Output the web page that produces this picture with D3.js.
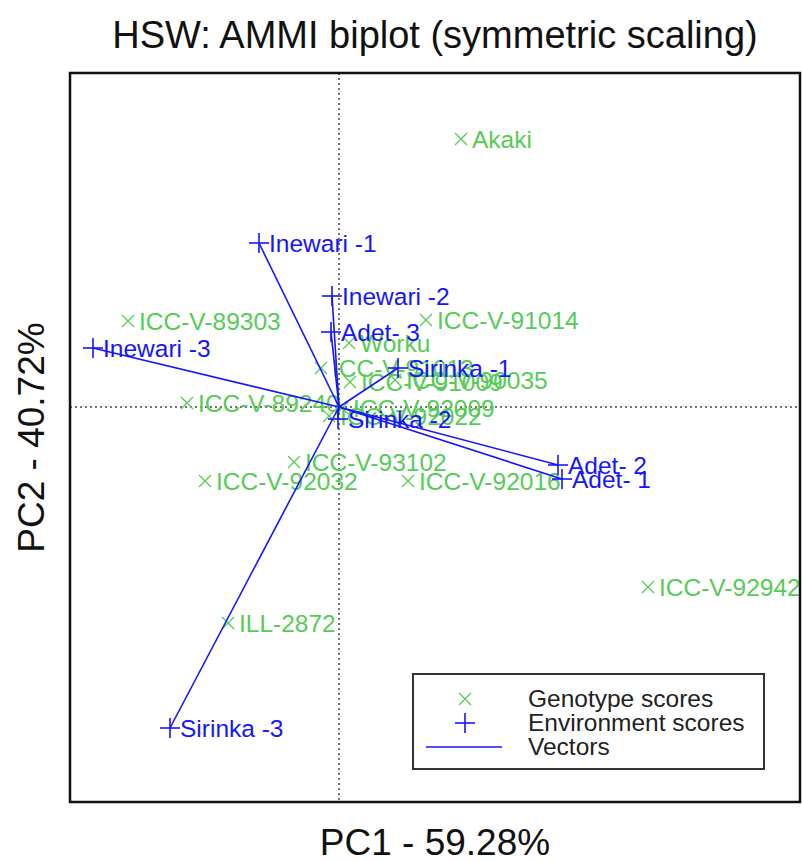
<!DOCTYPE html>
<html>
<head>
<meta charset="utf-8">
<script src="https://cdn.jsdelivr.net/npm/d3@7"></script>
<style>
  body { margin: 0; background: #fff; }
  svg { display: block; font-family: "Liberation Sans", Arial, sans-serif; }
</style>
</head>
<body>
<svg width="802" height="862"></svg>
<script>
// genotype scores (PC1, PC2)
var genoNames = ['Akaki', 'ICC-V-89303', 'ICC-V-91014', 'Worku', 'ICC-V-91013', 'ICC-V-91009',
  'ICC-V-90035', 'ICC-V-89240', 'ICC-V-92009', 'ICC-V-92022', 'ICC-V-93102', 'ICC-V-92032',
  'ICC-V-92016', 'ICC-V-92942', 'ILL-2872'];
var genoPC1 = [1.22, -2.11, 0.87, 0.10, -0.18, 0.11, 0.56, -1.52, 0.03, -0.10, -0.45, -1.34, 0.69, 3.09, -1.11];
var genoPC2 = [2.68, 0.86, 0.87, 0.64, 0.39, 0.25, 0.27, 0.04, -0.01, -0.09, -0.55, -0.74, -0.74, -1.80, -2.16];

// environment scores (PC1, PC2)
var envNames = ['Inewari -1', 'Inewari -2', 'Adet- 3', 'Inewari -3', 'Sirinka -1', 'Sirinka -2',
  'Adet- 2', 'Adet- 1', 'Sirinka -3'];
var envPC1 = [-0.80, -0.07, -0.08, -2.46, 0.59, -0.01, 2.19, 2.23, -1.69];
var envPC2 = [1.64, 1.11, 0.75, 0.59, 0.39, -0.12, -0.58, -0.72, -3.21];

var legendLabels = ['Genotype scores', 'Environment scores', 'Vectors'];

var green = '#55cc55';
var blue = '#1515ff';

var svg = d3.select('svg');
var plotL = 70, plotR = 800, plotT = 73, plotB = 802;

var x = d3.scaleLinear().domain([-2.69, 4.61]).range([plotL, plotR]);
var y = d3.scaleLinear().domain([-3.95, 3.34]).range([plotB, plotT]);

var geno = genoNames.map(function(n, i) { return {name: n, x: genoPC1[i], y: genoPC2[i]}; });
var env = envNames.map(function(n, i) { return {name: n, x: envPC1[i], y: envPC2[i]}; });

// title + axis labels
svg.append('text').attr('x', (plotL + plotR) / 2).attr('y', 48)
  .attr('text-anchor', 'middle').attr('font-size', 38).attr('fill', '#111')
  .text('HSW: AMMI biplot (symmetric scaling)');
svg.append('text').attr('x', (plotL + plotR) / 2).attr('y', 855)
  .attr('text-anchor', 'middle').attr('font-size', 37).attr('fill', '#111')
  .text('PC1 - 59.28%');
svg.append('text')
  .attr('transform', 'translate(44,' + (plotT + plotB) / 2 + ') rotate(-90)')
  .attr('text-anchor', 'middle').attr('font-size', 37).attr('fill', '#111')
  .text('PC2 - 40.72%');

// origin lines
svg.append('line').attr('x1', x(0)).attr('x2', x(0)).attr('y1', plotT).attr('y2', plotB)
  .attr('stroke', '#444').attr('stroke-width', 1.5).attr('stroke-dasharray', '2,3');
svg.append('line').attr('x1', plotL).attr('x2', plotR).attr('y1', y(0)).attr('y2', y(0))
  .attr('stroke', '#444').attr('stroke-width', 1.5).attr('stroke-dasharray', '2,3');

function cross(g, cx, cy, s, col) {
  g.append('line').attr('x1', cx - s).attr('x2', cx + s).attr('y1', cy - s).attr('y2', cy + s)
    .attr('stroke', col).attr('stroke-width', 1.3);
  g.append('line').attr('x1', cx - s).attr('x2', cx + s).attr('y1', cy + s).attr('y2', cy - s)
    .attr('stroke', col).attr('stroke-width', 1.3);
}
function plus(g, cx, cy, s, col) {
  g.append('line').attr('x1', cx - s).attr('x2', cx + s).attr('y1', cy).attr('y2', cy)
    .attr('stroke', col).attr('stroke-width', 1.6);
  g.append('line').attr('x1', cx).attr('x2', cx).attr('y1', cy - s).attr('y2', cy + s)
    .attr('stroke', col).attr('stroke-width', 1.6);
}

// genotypes
var gg = svg.append('g');
geno.forEach(function(d) {
  cross(gg, x(d.x), y(d.y), 6, green);
  gg.append('text').attr('x', x(d.x) + 11).attr('y', y(d.y) + 8.5)
    .attr('font-size', 24.5).attr('fill', green).text(d.name);
});

// vectors
svg.selectAll('line.vec').data(env).enter().append('line').attr('class', 'vec')
  .attr('x1', x(0)).attr('y1', y(0))
  .attr('x2', function(d) { return x(d.x); })
  .attr('y2', function(d) { return y(d.y); })
  .attr('stroke', blue).attr('stroke-width', 1.6);

// environments
var eg = svg.append('g');
env.forEach(function(d) {
  plus(eg, x(d.x), y(d.y), 10, blue);
  eg.append('text').attr('x', x(d.x) + 10).attr('y', y(d.y) + 8.5)
    .attr('font-size', 24.5).attr('fill', blue).text(d.name);
});

// frame
svg.append('rect').attr('x', plotL).attr('y', plotT).attr('width', plotR - plotL).attr('height', plotB - plotT)
  .attr('fill', 'none').attr('stroke', '#111').attr('stroke-width', 2.5);

// legend
var lg = svg.append('g');
lg.append('rect').attr('x', 413).attr('y', 674).attr('width', 351).attr('height', 95)
  .attr('fill', '#fff').attr('stroke', '#333').attr('stroke-width', 2);
var ly = [699, 723, 747];
cross(lg, 465, ly[0], 6, green);
plus(lg, 465, ly[1], 10, blue);
lg.append('line').attr('x1', 426).attr('x2', 502).attr('y1', ly[2]).attr('y2', ly[2])
  .attr('stroke', blue).attr('stroke-width', 1.6);
legendLabels.forEach(function(t, i) {
  lg.append('text').attr('x', 528).attr('y', ly[i] + 8).attr('font-size', 24.5)
    .attr('fill', '#222').text(t);
});
</script>
</body>
</html>
